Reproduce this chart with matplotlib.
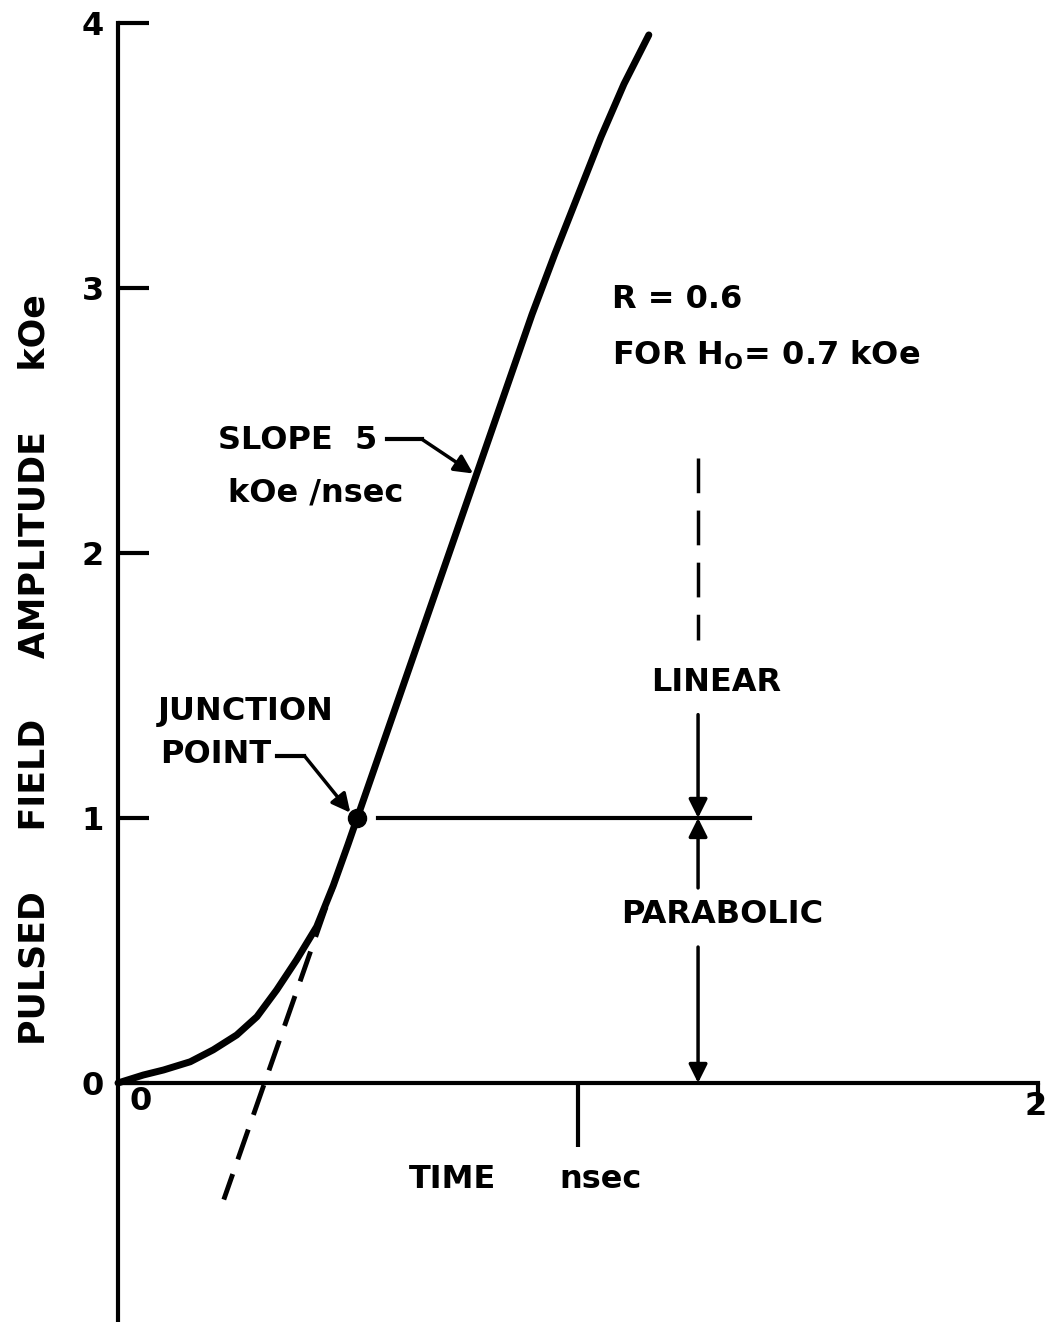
import matplotlib.pyplot as plt

# pulse rise curve (time in nsec, field in kOe)
time_ns = [0.0, 0.055, 0.099, 0.157, 0.207, 0.258, 0.302, 0.345, 0.388, 0.432,
           0.468, 0.500, 0.52, 0.60, 0.66, 0.72, 0.78, 0.84, 0.90, 0.95,
           1.00, 1.05, 1.10, 1.154]
field_koe = [0.0, 0.03, 0.049, 0.080, 0.125, 0.181, 0.250, 0.351, 0.464, 0.590,
             0.745, 0.90, 1.0, 1.40, 1.70, 2.00, 2.30, 2.60, 2.90, 3.13,
             3.35, 3.57, 3.77, 3.955]

# slope-5 tangent extended below the axis
tangent_t = [0.52, 0.23]
tangent_h = [1.0, -0.44]

# junction point and the level line through it
junction_t, junction_h = 0.52, 1.0
level_t = [0.565, 1.374]

y_ticks = [0, 1, 2, 3, 4]

plt.rcParams['font.family'] = ['DejaVu Sans']
plt.rcParams['font.weight'] = 'bold'
FS = 23

fig = plt.figure(figsize=(10.5, 13.22), dpi=100)
ax = fig.add_axes([118 / 1050, 0, 920 / 1050, 1 - 23 / 1322])
ax.set_xlim(0, 2)
ax.set_ylim(-0.902, 4.0)

for s in ['top', 'right']:
    ax.spines[s].set_visible(False)
ax.spines['bottom'].set_position(('data', 0))
ax.spines['left'].set_linewidth(3)
ax.spines['bottom'].set_linewidth(3)

ax.set_yticks(y_ticks)
ax.set_yticklabels([str(v) for v in y_ticks], fontsize=FS, fontweight='bold')
ax.tick_params(axis='y', direction='in', length=22, width=3, pad=10)
ax.set_xticks([1])
ax.set_xticklabels([''])
ax.tick_params(axis='x', which='major', direction='out', length=46, width=3)
ax.set_xticks([2], minor=True)
ax.tick_params(axis='x', which='minor', direction='out', length=16, width=3)

ax.text(0.025, -0.07, '0', fontsize=FS, ha='left', va='center')
ax.text(1.995, -0.09, '2', fontsize=FS, ha='center', va='center')

# curve, tangent, junction
ax.plot(time_ns, field_koe, color='black', lw=5, solid_capstyle='round',
        solid_joinstyle='round', clip_on=False)
ax.plot(tangent_t, tangent_h, color='black', lw=3.5, dashes=(6.5, 3.2), clip_on=False)
ax.plot([junction_t], [junction_h], 'o', color='black', ms=13)
ax.plot(level_t, [junction_h, junction_h], color='black', lw=3)

# linear / parabolic markers
xv = 1.261
ax.plot([xv, xv], [2.36, 1.67], color='black', lw=2.5, dashes=(10, 5))
arrow = dict(arrowstyle='-|>', color='black', lw=2.5, mutation_scale=28, shrinkA=0, shrinkB=0)
ax.annotate('', xy=(xv, 1.0), xytext=(xv, 1.39), arrowprops=arrow)
ax.annotate('', xy=(xv, 1.0), xytext=(xv, 0.736), arrowprops=arrow)
ax.annotate('', xy=(xv, 0.0), xytext=(xv, 0.513), arrowprops=arrow)
ax.text(1.30, 1.513, 'LINEAR', fontsize=FS, ha='center', va='center')
ax.text(1.313, 0.634, 'PARABOLIC', fontsize=FS, ha='center', va='center')

# labels with leaders
ax.text(0.217, 2.426, 'SLOPE  5', fontsize=FS, ha='left', va='center')
ax.text(0.239, 2.226, 'kOe /nsec', fontsize=FS, ha='left', va='center')
ax.plot([0.585, 0.66], [2.43, 2.43], color='black', lw=3)
ax.annotate('', xy=(0.772, 2.30), xytext=(0.66, 2.43), arrowprops=arrow)

ax.text(0.087, 1.40, 'JUNCTION', fontsize=FS, ha='left', va='center')
ax.text(0.091, 1.238, 'POINT', fontsize=FS, ha='left', va='center')
ax.plot([0.345, 0.405], [1.235, 1.235], color='black', lw=3)
ax.annotate('', xy=(0.505, 1.02), xytext=(0.405, 1.235), arrowprops=arrow)

ax.text(1.074, 2.955, 'R = 0.6', fontsize=FS, ha='left', va='center')
ax.text(1.074, 2.747, r'FOR H$_\mathbf{O}$= 0.7 kOe', fontsize=FS, ha='left', va='center')

ax.text(0.728, -0.366, 'TIME', fontsize=FS, ha='center', va='center')
ax.text(1.048, -0.366, 'nsec', fontsize=FS, ha='center', va='center')

fig.text(35 / 1050, 1 - 670 / 1322, 'PULSED     FIELD     AMPLITUDE     kOe',
         fontsize=25, rotation=90, ha='center', va='center')

fig.savefig('out.png', dpi=100)
